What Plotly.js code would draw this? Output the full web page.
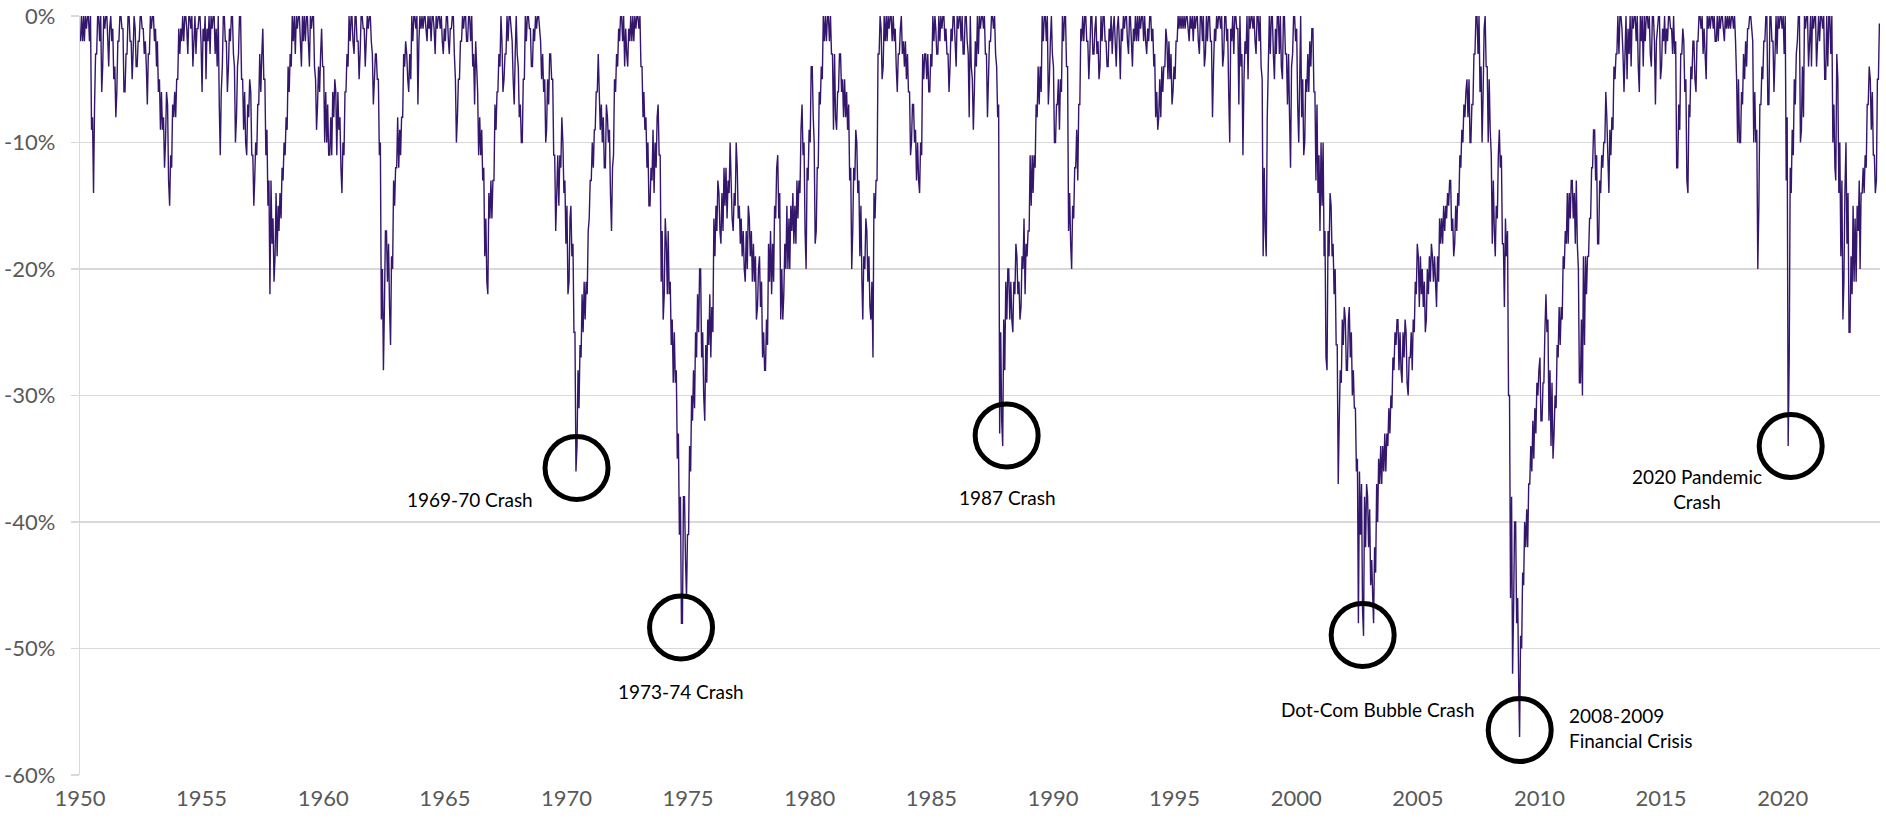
<!DOCTYPE html>
<html>
<head>
<meta charset="utf-8">
<script src="https://cdn.plot.ly/plotly-3.0.1.min.js"></script>
<style>
  html, body { margin: 0; padding: 0; background: #ffffff; }
  #chart { width: 1886px; height: 819px; }
</style>
</head>
<body>
<div id="chart"></div>
<script>
// S&P 500 drawdown from running peak (%), read per month from the reference:
// hi = shallowest drawdown in the month, lo = deepest drawdown in the month.
const startYear = 1950;

const hi1950s = [
  0,0,0,0,0,0,-8,-3,0,0,0,0,
  0,0,-1,0,-1,-4,-2,0,0,-1,-3,0,
  0,-2,0,-1,-2,0,0,-1,-2,-3,0,0,
  0,-1,-2,-5,-6,-8,-6,-7,-11,-7,-6,-5,
  -1,-1,0,0,0,0,0,0,0,-1,0,0,
  -1,0,-1,0,0,0,0,-1,0,-6,0,0,
  -2,-1,0,0,-4,-4,0,0,-5,-6,-7,-5,
  -6,-11,-10,-7,-3,-3,-1,-5,-9,-13,-13,-16,
  -14,-15,-14,-12,-10,-8,-4,-3,0,0,0,0,
  0,0,0,0,0,0,0,0,-5,-4,-3,-1
];
const lo1950s = [
  -2,-2,-2,-1,-2,-9,-14,-7,-3,-2,-6,-4,
  -1,-2,-4,-2,-5,-8,-6,-2,-1,-6,-6,-3,
  -2,-5,-3,-4,-4,-2,-1,-3,-4,-7,-3,-1,
  -2,-4,-6,-9,-9,-12,-10,-13,-15,-12,-8,-8,
  -5,-3,-2,-2,-1,-3,-1,-4,-2,-3,-1,-2,
  -6,-2,-5,-2,-3,-1,-3,-4,-7,-11,-4,-2,
  -6,-4,-2,-3,-10,-8,-3,-5,-9,-10,-11,-8,
  -11,-15,-13,-11,-7,-6,-5,-11,-15,-22,-18,-21,
  -19,-19,-17,-16,-13,-11,-9,-6,-4,-2,-3,-1,
  -2,-4,-2,-2,-2,-4,-1,-4,-9,-7,-6,-4
];

const hi1960s = [
  -4,-6,-7,-8,-6,-5,-6,-6,-8,-10,-6,-3,
  0,0,0,0,0,-2,0,0,-1,0,0,0,
  -3,-3,-3,-5,-10,-20,-17,-17,-18,-19,-13,-12,
  -8,-9,-8,-3,-2,-3,-3,0,0,0,0,0,
  0,0,0,0,0,0,0,0,0,0,0,-1,
  0,0,-1,0,0,-5,-5,-2,0,0,0,0,
  0,0,-3,-2,-6,-8,-9,-12,-16,-14,-13,-13,
  -7,-6,-3,0,-2,-3,0,0,0,-2,-3,0,
  -4,-7,-5,0,0,0,-1,-1,0,0,0,-2,
  -3,-5,-5,-3,-3,-5,-11,-11,-11,-8,-10,-13
];
const lo1960s = [
  -10,-10,-11,-11,-11,-8,-11,-9,-12,-14,-11,-6,
  -4,-2,-2,-3,-2,-5,-3,-1,-4,-2,-1,-2,
  -7,-5,-5,-11,-24,-28,-23,-21,-23,-26,-20,-15,
  -12,-12,-11,-8,-4,-5,-6,-5,-2,-1,-7,-2,
  -1,-1,-1,-2,-1,-2,-1,-3,-1,-1,-2,-3,
  -2,-2,-3,-1,-3,-10,-8,-5,-2,-1,-2,-2,
  -2,-4,-7,-4,-11,-11,-13,-19,-21,-22,-16,-16,
  -13,-9,-6,-4,-6,-5,-3,-2,-1,-5,-7,-3,
  -8,-10,-10,-5,-2,-1,-4,-4,-2,-1,-1,-5,
  -6,-10,-9,-7,-5,-11,-17,-14,-15,-12,-14,-18
];

const hi1970s = [
  -15,-16,-15,-18,-25,-28,-26,-22,-21,-21,-17,-13,
  -10,-9,-6,-3,-6,-7,-8,-7,-8,-9,-12,-5,
  -3,-1,0,0,0,-1,-1,0,0,0,0,0,
  0,-4,-6,-8,-10,-12,-9,-10,-8,-7,-11,-17,
  -16,-18,-17,-21,-24,-25,-28,-33,-38,-38,-38,-41,
  -34,-30,-28,-25,-22,-20,-20,-25,-26,-24,-22,-23,
  -16,-15,-13,-14,-14,-12,-12,-13,-10,-13,-14,-10,
  -12,-15,-16,-17,-17,-15,-16,-17,-18,-19,-20,-19,
  -21,-25,-24,-18,-17,-18,-15,-12,-11,-14,-20,-18,
  -15,-16,-15,-14,-15,-13,-13,-9,-7,-10,-12,-9
];
const lo1970s = [
  -22,-21,-19,-25,-36,-34,-31,-27,-25,-24,-22,-16,
  -13,-12,-9,-6,-9,-10,-12,-12,-10,-14,-17,-11,
  -6,-4,-2,-2,-4,-3,-4,-2,-2,-2,-1,-1,
  -4,-8,-9,-12,-15,-15,-13,-14,-12,-11,-21,-24,
  -22,-22,-22,-26,-29,-29,-35,-41,-48,-48,-43,-46,
  -41,-36,-32,-31,-27,-25,-27,-30,-32,-29,-26,-27,
  -25,-19,-17,-17,-18,-17,-15,-16,-14,-16,-17,-15,
  -16,-18,-19,-20,-21,-20,-19,-21,-21,-24,-23,-23,
  -27,-28,-28,-26,-21,-22,-21,-16,-16,-24,-24,-22,
  -20,-20,-20,-17,-18,-18,-16,-14,-11,-17,-20,-13
];

const hi1980s = [
  -4,-4,-10,-12,-6,-4,0,0,0,0,0,-3,
  -3,-6,-3,-3,-5,-5,-6,-7,-12,-12,-9,-10,
  -13,-15,-19,-16,-17,-19,-21,-14,-13,-3,0,-1,
  0,0,0,0,0,0,-1,-3,-1,0,-2,-2,
  -3,-6,-7,-7,-9,-10,-10,-3,-3,-3,-3,-3,
  0,0,-1,0,0,0,0,-1,-3,-1,0,0,
  0,0,0,0,0,0,-3,0,-5,-2,0,0,
  0,0,0,-3,-2,0,0,0,-4,-7,-25,-24,
  -21,-20,-20,-21,-21,-18,-19,-21,-19,-16,-18,-17,
  -11,-11,-11,-7,-4,-4,0,0,0,0,-2,0
];
const lo1980s = [
  -10,-8,-18,-17,-12,-7,-5,-2,-2,-2,-3,-9,
  -8,-9,-6,-6,-8,-8,-9,-13,-20,-17,-13,-14,
  -19,-21,-24,-20,-21,-23,-24,-27,-16,-13,-3,-5,
  -4,-2,-2,-1,-2,-2,-4,-6,-3,-3,-4,-5,
  -6,-11,-10,-10,-13,-13,-14,-11,-5,-5,-6,-6,
  -4,-2,-3,-3,-2,-1,-2,-3,-6,-4,-2,-2,
  -4,-1,-2,-3,-3,-2,-8,-4,-9,-6,-4,-3,
  -1,-1,-3,-8,-5,-2,-1,-3,-8,-33,-32,-34,
  -28,-24,-24,-24,-25,-22,-22,-24,-23,-20,-22,-19,
  -17,-15,-14,-12,-8,-7,-6,-2,-2,-7,-5,-3
];

const hi1990s = [
  -4,-7,-5,-5,0,0,0,-4,-14,-15,-12,-9,
  -7,-1,0,0,0,-2,0,0,-1,0,-2,0,
  0,0,-2,-1,0,-1,0,-1,0,-1,0,0,
  0,0,0,-1,0,0,0,0,0,0,-1,0,
  0,-1,-3,-6,-5,-4,-4,-1,-2,-2,-3,-4,
  -2,0,0,0,0,0,0,0,0,0,0,0,
  0,0,0,0,0,0,-2,-1,0,0,0,0,
  0,0,-1,-1,0,0,0,-1,0,-3,-2,0,
  0,0,0,0,0,0,0,-5,-12,-8,0,0,
  0,-1,0,0,0,0,0,-3,-3,-4,0,0
];
const lo1990s = [
  -10,-10,-7,-9,-6,-2,-4,-17,-18,-20,-16,-12,
  -13,-7,-2,-2,-2,-5,-3,-3,-3,-3,-5,-4,
  -2,-2,-4,-4,-2,-3,-2,-4,-2,-5,-2,-1,
  -2,-3,-2,-4,-2,-2,-2,-1,-2,-2,-3,-2,
  -2,-4,-8,-9,-8,-8,-6,-4,-5,-5,-7,-6,
  -5,-2,-1,-1,-1,-1,-1,-2,-1,-2,-1,-2,
  -3,-2,-4,-3,-2,-2,-8,-4,-2,-1,-1,-4,
  -3,-2,-6,-10,-2,-3,-1,-7,-4,-11,-5,-3,
  -5,-1,-1,-2,-3,-2,-4,-19,-17,-19,-4,-3,
  -3,-5,-3,-3,-4,-5,-3,-7,-8,-12,-3,-2
];

const hi2000s = [
  -1,-5,0,-5,-5,-3,-2,-1,-1,-6,-7,-11,
  -10,-10,-17,-17,-14,-15,-18,-20,-26,-28,-24,-23,
  -24,-24,-23,-25,-28,-31,-35,-36,-37,-38,-37,-38,
  -39,-43,-42,-37,-35,-34,-34,-33,-33,-31,-30,-27,
  -25,-24,-24,-25,-25,-24,-25,-27,-25,-24,-21,-18,
  -19,-19,-20,-21,-20,-19,-18,-19,-19,-19,-16,-16,
  -15,-15,-14,-13,-13,-16,-15,-14,-11,-9,-7,-6,
  -5,-5,-7,-3,0,0,0,-4,-1,0,-4,-5,
  -11,-13,-15,-11,-9,-11,-18,-16,-17,-30,-38,-40,
  -40,-46,-49,-44,-40,-39,-37,-34,-32,-31,-29,-28
];
const lo2000s = [
  -7,-10,-8,-11,-10,-6,-6,-4,-6,-13,-14,-17,
  -15,-19,-27,-28,-19,-19,-22,-26,-37,-32,-29,-26,
  -28,-28,-27,-30,-31,-36,-48,-41,-47,-49,-42,-42,
  -45,-46,-48,-44,-40,-37,-37,-36,-36,-34,-33,-31,
  -28,-26,-28,-28,-29,-27,-29,-30,-27,-28,-25,-22,
  -23,-22,-23,-25,-24,-22,-21,-21,-21,-23,-21,-18,
  -18,-17,-16,-15,-17,-19,-18,-17,-15,-12,-10,-8,
  -8,-10,-10,-7,-3,-3,-6,-10,-6,-4,-10,-9,
  -18,-17,-19,-16,-12,-18,-23,-19,-30,-46,-52,-47,
  -48,-53,-57,-50,-45,-42,-42,-37,-36,-35,-33,-30
];

const hi2010s = [
  -27,-29,-25,-22,-24,-28,-29,-30,-26,-23,-23,-19,
  -17,-14,-14,-13,-13,-14,-13,-20,-24,-19,-19,-19,
  -16,-12,-9,-9,-11,-13,-11,-10,-6,-8,-9,-8,
  -4,-3,0,0,0,-3,0,-1,0,0,0,0,
  0,0,0,0,0,0,0,0,0,-2,0,0,
  -1,0,-1,0,0,-1,0,-2,-7,-3,-1,-2,
  -5,-7,-4,-2,-2,-2,0,0,0,-1,0,0,
  0,0,0,0,0,0,0,0,0,0,0,0,
  0,-5,-5,-6,-3,-2,-1,0,0,-2,-6,-9,
  -7,-4,-2,0,0,0,0,-2,0,0,0,0
];
const lo2010s = [
  -32,-32,-29,-25,-32,-34,-35,-33,-31,-27,-26,-24,
  -20,-18,-18,-16,-16,-18,-18,-29,-29,-30,-26,-22,
  -19,-16,-12,-13,-18,-18,-14,-12,-10,-11,-14,-11,
  -9,-5,-3,-3,-1,-6,-3,-5,-3,-4,-1,-2,
  -4,-6,-2,-4,-2,-1,-3,-4,-2,-7,-1,-5,
  -4,-2,-3,-2,-1,-3,-3,-12,-12,-9,-3,-6,
  -13,-14,-8,-5,-5,-6,-2,-1,-3,-3,-5,-1,
  -1,-1,-2,-2,-2,-1,-1,-2,-1,-1,-1,-1,
  -2,-10,-10,-10,-7,-5,-4,-1,-1,-10,-10,-20,
  -15,-7,-5,-2,-7,-7,-2,-6,-3,-3,-1,-1
];

const hi2020s = [
  0,0,-8,-12,-9,-5,-3,0,0,-4,0,0,
  0,0,0,0,0,0,0,0,0,0,0,0,
  0,-7,-3,-5,-10,-13,-14,-10,-14,-19,-15,-16,
  -15,-13,-14,-12,-11,-7,-4,-5,-6,-11,-5,-0.6
];
const lo2020s = [
  -3,-13,-34,-27,-14,-11,-7,-2,-10,-9,-8,-1,
  -4,-2,-4,-1,-4,-2,-2,-1,-5,-5,-4,-3,
  -10,-12,-13,-14,-19,-24,-21,-18,-25,-25,-22,-21,
  -21,-17,-20,-14,-14,-12,-7,-9,-11,-14,-13,-5
];

const yTickValues = [0, -10, -20, -30, -40, -50, -60];
const yTickLabels = ['0%', '-10%', '-20%', '-30%', '-40%', '-50%', '-60%'];
const xTickYears = ['1950','1955','1960','1965','1970','1975','1980','1985',
                    '1990','1995','2000','2005','2010','2015','2020'];

const crashLabels = [
  '1969-70 Crash', '1973-74 Crash', '1987 Crash', 'Dot-Com Bubble Crash',
  '2008-2009<br>Financial Crisis', '2020 Pandemic<br>Crash'
];

// ---- build the series ----
const hiAll = [].concat(hi1950s, hi1960s, hi1970s, hi1980s, hi1990s, hi2000s, hi2010s, hi2020s);
const loAll = [].concat(lo1950s, lo1960s, lo1970s, lo1980s, lo1990s, lo2000s, lo2010s, lo2020s);
const xs = [], ys = [];
for (let i = 0; i < hiAll.length; i++) {
  const yr = startYear + Math.floor(i / 12);
  const mm = String(i % 12 + 1).padStart(2, '0');
  const mid = (hiAll[i] + loAll[i]) / 2;
  const prev = i > 0 ? (hiAll[i-1] + loAll[i-1]) / 2 : mid;
  const next = i < hiAll.length - 1 ? (hiAll[i+1] + loAll[i+1]) / 2 : mid;
  const rising = (next - prev) >= 0;
  xs.push(yr + '-' + mm + '-08', yr + '-' + mm + '-23');
  if (rising) { ys.push(loAll[i], hiAll[i]); } else { ys.push(hiAll[i], loAll[i]); }
}

const FONT = 'Lato, "Open Sans", "Noto Sans", sans-serif';
const AXIS_GRAY = '#595959';
const GRID = '#d9d9d9';

const trace = {
  type: 'scatter', mode: 'lines', x: xs, y: ys,
  line: { color: '#34176c', width: 1.4, simplify: false },
  hoverinfo: 'x+y'
};

// circle anchors and label positions (layout only)
const circleAnchors = [
  ['1970-06-01', -35.73], ['1974-09-17', -48.34], ['1988-02-05', -33.16],
  ['2002-09-25', -48.93], ['2009-03-10', -56.44], ['2020-04-30', -33.99]
];
const shapes = circleAnchors.map(function (c) {
  return {
    type: 'circle', xref: 'x', yref: 'y', xsizemode: 'pixel', ysizemode: 'pixel',
    xanchor: c[0], yanchor: c[1], x0: -31.5, x1: 31.5, y0: -31.5, y1: 31.5,
    line: { color: '#000000', width: 5 }, fillcolor: 'rgba(0,0,0,0)'
  };
});

const labelPos = [
  { x: '1966-01-15', y: -38.26, xanchor: 'center', align: 'center' },
  { x: '1974-09-17', y: -53.36, xanchor: 'center', align: 'center' },
  { x: '1988-02-19', y: -38.10, xanchor: 'center', align: 'center' },
  { x: '2003-05-16', y: -54.82, xanchor: 'center', align: 'center' },
  { x: '2011-02-21', y: -56.26, xanchor: 'left',   align: 'left' },
  { x: '2016-06-27', y: -37.42, xanchor: 'center', align: 'center' }
];
const annotations = crashLabels.map(function (t, i) {
  return {
    text: t, x: labelPos[i].x, y: labelPos[i].y, xref: 'x', yref: 'y',
    xanchor: labelPos[i].xanchor, yanchor: 'middle', align: labelPos[i].align,
    showarrow: false, font: { family: FONT, size: 19, color: '#000000' }
  };
});

const layout = {
  width: 1886, height: 819,
  margin: { l: 80, r: 6, t: 16, b: 44, pad: 0 },
  paper_bgcolor: '#ffffff', plot_bgcolor: '#ffffff',
  showlegend: false,
  xaxis: {
    type: 'date', range: ['1950-01-01', '2024-01-01'],
    tickmode: 'array',
    tickvals: xTickYears.map(function (y) { return y + '-01-01'; }),
    ticktext: xTickYears,
    showgrid: false, zeroline: false, showline: false, ticks: '',
    ticklabelstandoff: 8,
    tickfont: { family: FONT, size: 22, color: AXIS_GRAY }
  },
  yaxis: {
    range: [-60, 0], tickmode: 'array', tickvals: yTickValues, ticktext: yTickLabels,
    showgrid: true, gridcolor: GRID, gridwidth: 1.3, zeroline: false,
    showline: true, linecolor: GRID, linewidth: 1.3,
    ticks: 'outside', ticklen: 8, tickcolor: GRID, tickwidth: 1.3,
    ticklabelstandoff: 11,
    tickfont: { family: FONT, size: 22, color: AXIS_GRAY }
  },
  shapes: shapes,
  annotations: annotations
};

Plotly.newPlot('chart', [trace], layout, { staticPlot: true, displayModeBar: false });
</script>
</body>
</html>
